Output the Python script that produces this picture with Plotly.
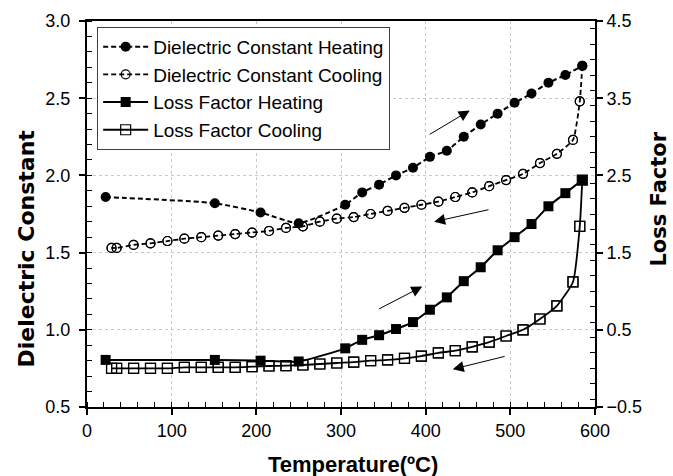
import plotly.graph_objects as go

# ---- data ----
heat_T = [22, 151, 205, 250, 305, 325, 345, 365, 385, 405, 425, 445, 465, 485, 505, 525, 545, 565, 585]
dc_heat = [1.86, 1.82, 1.76, 1.69, 1.81, 1.89, 1.94, 2.00, 2.05, 2.12, 2.16, 2.25, 2.33, 2.40, 2.47, 2.53, 2.60, 2.65, 2.71]
lf_heat = [0.11, 0.11, 0.10, 0.09, 0.26, 0.37, 0.43, 0.51, 0.60, 0.76, 0.92, 1.13, 1.31, 1.53, 1.70, 1.87, 2.10, 2.27, 2.44]

cool_T = [585, 582, 574, 555, 535, 515, 495, 475, 455, 435, 415, 395, 375, 355, 335, 315, 295,
          275, 255, 235, 215, 195, 175, 155, 135, 115, 95, 75, 55, 35, 29]
dc_cool = [2.71, 2.48, 2.23, 2.14, 2.08, 2.01, 1.97, 1.93, 1.89, 1.86, 1.83, 1.81, 1.79, 1.77, 1.75, 1.73, 1.72,
           1.70, 1.67, 1.66, 1.64, 1.63, 1.62, 1.61, 1.60, 1.59, 1.575, 1.56, 1.55, 1.53, 1.53]
lf_cool = [2.44, 1.84, 1.12, 0.81, 0.64, 0.50, 0.42, 0.34, 0.28, 0.23, 0.20, 0.16, 0.13, 0.11, 0.10, 0.08, 0.07,
           0.057, 0.044, 0.035, 0.031, 0.022, 0.014, 0.014, 0.014, 0.014, 0.0, 0.0, 0.0, 0.0, 0.0]

# arrows: (tail_x, tail_y, head_x, head_y) in left-axis data units
arrows = [
    (403, 2.26, 452, 2.42),
    (476, 1.78, 410, 1.70),
    (343, 1.13, 396, 1.28),
    (495, 0.83, 432, 0.745),
]

FONT = "Liberation Sans, Arial, sans-serif"
TFONT = "DejaVu Sans, Verdana, sans-serif"
DASH = "5px,3px"

fig = go.Figure()

# cooling markers first so heating markers sit on top
fig.add_trace(go.Scatter(
    x=cool_T[1:], y=lf_cool[1:], yaxis="y2", mode="markers", showlegend=False,
    marker=dict(symbol="square-open", size=10, color="black", line=dict(width=1.2)),
    hoverinfo="skip"))
fig.add_trace(go.Scatter(
    x=cool_T[1:], y=dc_cool[1:], mode="markers", showlegend=False,
    marker=dict(symbol="circle-open", size=9, color="black", line=dict(width=1.2)),
    hoverinfo="skip"))

fig.add_trace(go.Scatter(
    x=heat_T, y=dc_heat, name="Dielectric Constant Heating", mode="lines+markers",
    line=dict(color="black", width=2, dash=DASH, shape="spline", smoothing=0.5),
    marker=dict(symbol="circle", size=10, color="black")))
fig.add_trace(go.Scatter(
    x=cool_T, y=dc_cool, name="Dielectric Constant Cooling", mode="lines+markers",
    line=dict(color="black", width=1.8, dash=DASH, shape="spline", smoothing=0.5),
    marker=dict(symbol="circle-open", size=9, color="black", line=dict(width=1.2), maxdisplayed=0)))
fig.add_trace(go.Scatter(
    x=heat_T, y=lf_heat, name="Loss Factor Heating", mode="lines+markers", yaxis="y2",
    line=dict(color="black", width=2, shape="spline", smoothing=0.5),
    marker=dict(symbol="square", size=10, color="black")))
fig.add_trace(go.Scatter(
    x=cool_T, y=lf_cool, name="Loss Factor Cooling", mode="lines+markers", yaxis="y2",
    line=dict(color="black", width=1.8, shape="spline", smoothing=0.5),
    marker=dict(symbol="square-open", size=10, color="black", line=dict(width=1.2), maxdisplayed=0)))

for tx, ty, hx, hy in arrows:
    fig.add_annotation(x=hx, y=hy, ax=tx, ay=ty, xref="x", yref="y", axref="x", ayref="y",
                       showarrow=True, arrowhead=2, arrowsize=2.2, arrowwidth=1.0,
                       arrowcolor="black", text="")

# axis titles as annotations for exact placement
fig.add_annotation(x=0.5236, y=-0.150, xref="paper", yref="paper", showarrow=False,
                   text="<b>Temperature(ºC)</b>", font=dict(family=FONT, size=22),
                   xanchor="center", yanchor="middle")
fig.add_annotation(x=-0.120, y=0.4106, xref="paper", yref="paper", showarrow=False,
                   text="<b>Dielectric Constant</b>", font=dict(family=TFONT, size=22),
                   textangle=-90, xanchor="center", yanchor="middle")
fig.add_annotation(x=1.1265, y=0.538, xref="paper", yref="paper", showarrow=False,
                   text="<b>Loss Factor</b>", font=dict(family=TFONT, size=21),
                   textangle=-90, xanchor="center", yanchor="middle")

grid = dict(showgrid=True, gridcolor="#c8c8c8", griddash="dot", gridwidth=1)

fig.update_layout(
    width=673, height=476,
    margin=dict(l=87, r=78, t=21, b=69, autoexpand=False),
    paper_bgcolor="white", plot_bgcolor="white",
    font=dict(family=FONT, size=18, color="black"),
    showlegend=True,
    legend=dict(x=0.02, y=0.985, xanchor="left", yanchor="top",
                bgcolor="white", bordercolor="#404040", borderwidth=1,
                font=dict(family=FONT, size=19), itemwidth=45,
                traceorder="normal"),
    xaxis=dict(range=[0, 600], dtick=100, tick0=0, ticks="outside", ticklen=6, tickwidth=1.5,
               tickcolor="black", showline=True, linecolor="black", linewidth=2, mirror=True,
               minor=dict(ticks="inside", dtick=20, ticklen=5, tickcolor="black", tickwidth=1, showgrid=False),
               automargin=False, zeroline=False, **grid),
    yaxis=dict(range=[0.5, 3.0], dtick=0.5, tick0=0.5, tickformat=".1f", ticks="outside", ticklen=6,
               tickwidth=1.5, tickcolor="black", showline=True, linecolor="black", linewidth=2,
               ticklabelstandoff=5,
               minor=dict(ticks="inside", dtick=0.1, ticklen=5, tickcolor="black", tickwidth=1, showgrid=False),
               automargin=False, zeroline=False, **grid),
    yaxis2=dict(range=[-0.5, 4.5], dtick=1.0, tick0=-0.5, tickformat=".1f", overlaying="y", side="right",
                ticks="outside", ticklen=6, tickwidth=1.5, tickcolor="black", showline=True,
                linecolor="black", linewidth=2, showgrid=False, zeroline=False, automargin=False,
                minor=dict(ticks="inside", dtick=0.2, ticklen=5, tickcolor="black", tickwidth=1, showgrid=False)),
)

fig.write_html("out.html")
